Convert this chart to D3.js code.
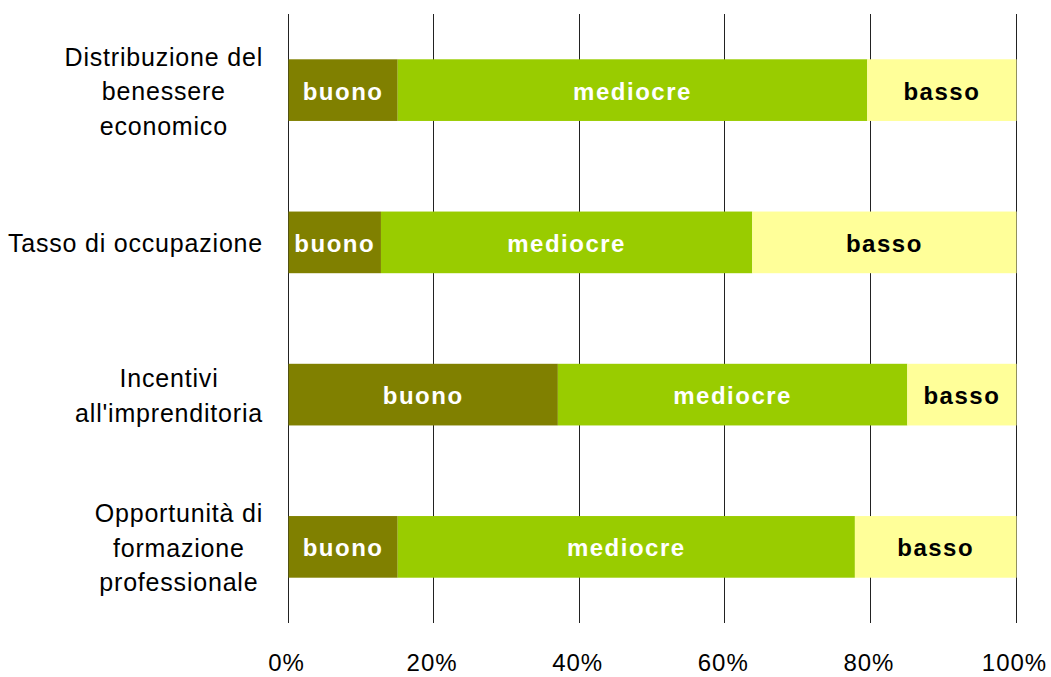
<!DOCTYPE html>
<html>
<head>
<meta charset="utf-8">
<script src="https://cdn.jsdelivr.net/npm/d3@7"></script>
<style>
  body { margin: 0; background: #fff; }
  text { font-family: "Liberation Sans", Arial, sans-serif; }
</style>
</head>
<body>
<svg width="1051" height="677"></svg>
<script>
// data (percent of each row)
var categories = [
    ["Distribuzione del", "benessere", "economico"],
    ["Tasso di occupazione"],
    ["Incentivi", "all'imprenditoria"],
    ["Opportunità di", "formazione", "professionale"]
];
var buono    = [15, 12.7, 37, 15];
var mediocre = [64.5, 51, 48, 62.8];
var basso    = [20.5, 36.3, 15, 22.2];
var seriesNames = ["buono", "mediocre", "basso"];
var ticks = [0, 20, 40, 60, 80, 100];

var colors = { buono: "#808000", mediocre: "#99cc00", basso: "#ffff99" };
var labelColors = { buono: "#fff", mediocre: "#fff", basso: "#000" };

var svg = d3.select("svg");
// note: "top" is taken by window.top, so plot edges get their own names
var plotLeft = 288.5, plotRight = 1016.5, plotTop = 14, plotBottom = 623;

var x = d3.scaleLinear().domain([0, 100]).range([plotLeft, plotRight]);
var y = d3.scaleBand()
    .domain(d3.range(categories.length))
    .range([plotTop, plotBottom])
    .paddingInner(0.595)
    .paddingOuter(0.2975);

// rows for stacking
var rows = categories.map(function(c, i) {
    return { i: i, buono: buono[i], mediocre: mediocre[i], basso: basso[i] };
});
var stack = d3.stack().keys(seriesNames)(rows);

// gridlines
svg.append("g").selectAll("line")
    .data(ticks)
    .enter().append("line")
    .attr("x1", function(d) { return Math.round(x(d)) - 0.5; })
    .attr("x2", function(d) { return Math.round(x(d)) - 0.5; })
    .attr("y1", plotTop)
    .attr("y2", plotBottom)
    .attr("stroke", "#222")
    .attr("stroke-width", 1);

// bars
var layer = svg.append("g").selectAll("g")
    .data(stack)
    .enter().append("g")
    .attr("fill", function(d) { return colors[d.key]; });

layer.selectAll("rect")
    .data(function(d) { return d; })
    .enter().append("rect")
    .attr("x", function(d) { return x(d[0]); })
    .attr("width", function(d) { return x(d[1]) - x(d[0]); })
    .attr("y", function(d) { return y(d.data.i); })
    .attr("height", y.bandwidth());

// labels in the segments
stack.forEach(function(s) {
    svg.append("g").selectAll("text")
        .data(s)
        .enter().append("text")
        .attr("x", function(d) { return (x(d[0]) + x(d[1])) / 2; })
        .attr("y", function(d) { return y(d.data.i) + y.bandwidth() / 2; })
        .attr("dy", "0.4em")
        .attr("text-anchor", "middle")
        .attr("font-size", "24px")
        .attr("font-weight", "bold")
        .attr("letter-spacing", "1.5px")
        .attr("fill", labelColors[s.key])
        .text(s.key);
});

// category labels: lines centred in a block that ends at the right edge
var lineH = 34.5;
categories.forEach(function(lines, i) {
    var cy = y(i) + y.bandwidth() / 2;
    var g = svg.append("g");
    var t = g.selectAll("text")
        .data(lines)
        .enter().append("text")
        .attr("font-size", "25px")
        .attr("letter-spacing", "0.8px")
        .attr("fill", "#000")
        .attr("text-anchor", "middle")
        .attr("y", function(d, j) { return cy + 10 + (j - (lines.length - 1) / 2) * lineH; })
        .text(function(d) { return d; });
    var w = d3.max(t.nodes(), function(n) { return n.getComputedTextLength(); });
    t.attr("x", 263 - w / 2);
});

// x tick labels
svg.append("g").selectAll("text")
    .data(ticks)
    .enter().append("text")
    .attr("x", function(d) { return x(d) - 2; })
    .attr("y", 671)
    .attr("text-anchor", "middle")
    .attr("font-size", "24px")
    .attr("letter-spacing", "1px")
    .attr("fill", "#000")
    .text(function(d) { return d + "%"; });
</script>
</body>
</html>
